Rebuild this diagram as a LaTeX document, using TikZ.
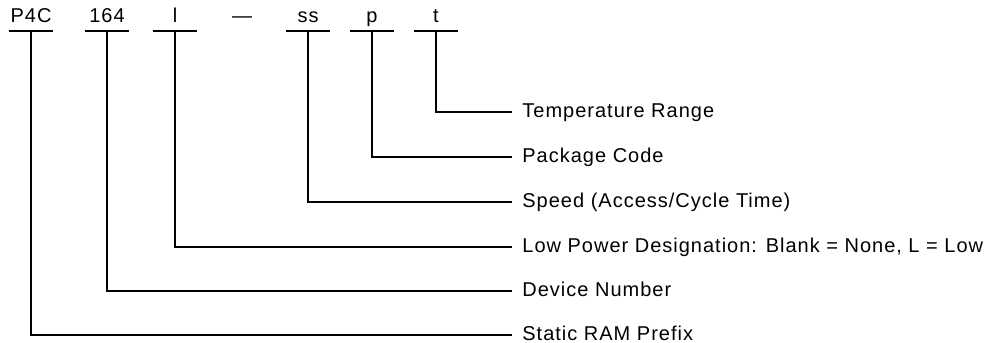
\documentclass[tikz,border=0pt]{standalone}
\usepackage{fontspec}
\setmainfont{Liberation Sans}[LetterSpace=5.0]
\usetikzlibrary{positioning}
\tikzset{
  code/.style={minimum width=22pt, inner xsep=0pt, inner ysep=4pt,
    text height=7.2pt, text depth=0pt, anchor=south},
  desc/.style={anchor=west, inner xsep=5pt, inner ysep=1pt,
    text height=7.2pt, text depth=1.5pt},
  lead/.style={line width=0.8pt}
}
\begin{document}
\begin{tikzpicture}[x=0.5pt, y=-0.5pt, font=\fontsize{10}{12}\selectfont]
\useasboundingbox (0,0) rectangle (998,343);
% fields of the part number
\node[code] (pfx) at (31,31) {P4C};
\node[code] (dev) at (107,31) {164};
\node[code] (lp) at (175,31) {l};
\node[code] (dsh) at (242,31) {—};
\node[code] (spd) at (308,31) {ss};
\node[code] (pkg) at (372,31) {p};
\node[code] (tmp) at (436,31) {t};
\foreach \n in {pfx,dev,lp,spd,pkg,tmp}
  \draw[lead] (\n.south west) -- (\n.south east);
% what each field means
\node[desc] (tmpd) at (512,112) {Temperature Range};
\node[desc] (pkgd) at (512,157) {Package Code};
\node[desc] (spdd) at (512,202) {Speed (Access/Cycle Time)};
\node[desc] (lpd) at (512,247) {Low Power Designation: Blank = None, L = Low};
\node[desc] (devd) at (512,291) {Device Number};
\node[desc] (pfxd) at (512,335) {Static RAM Prefix};
% leaders
\draw[lead] (tmp.south) |- (tmpd.west);
\draw[lead] (pkg.south) |- (pkgd.west);
\draw[lead] (spd.south) |- (spdd.west);
\draw[lead] (lp.south) |- (lpd.west);
\draw[lead] (dev.south) |- (devd.west);
\draw[lead] (pfx.south) |- (pfxd.west);
\end{tikzpicture}
\end{document}
